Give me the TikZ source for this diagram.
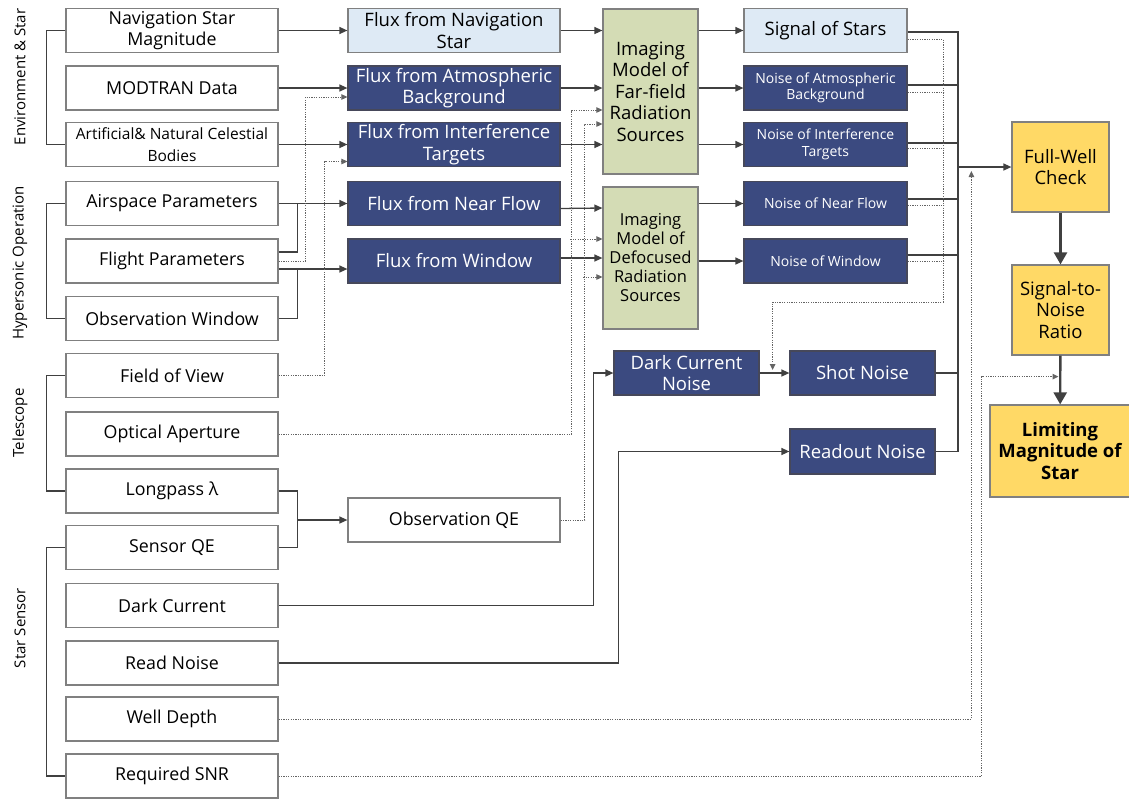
\documentclass[tikz,border=0pt]{standalone}
\usepackage{fontspec}
\setmainfont{Open Sans}
\usetikzlibrary{arrows.meta,calc}
\definecolor{navy}{RGB}{59,74,128}
\definecolor{lblue}{RGB}{222,234,245}
\definecolor{olivebg}{RGB}{212,220,181}
\definecolor{goldbg}{RGB}{255,217,102}
\definecolor{lc}{RGB}{64,64,64}
\definecolor{bc}{RGB}{128,128,128}
\definecolor{nb}{RGB}{70,72,90}
\definecolor{dotc}{RGB}{100,100,100}
\newcommand\fsA{\fontsize{17.8}{21.5}\selectfont}
\newcommand\fsB{\fontsize{18.5}{21.5}\selectfont}
\newcommand\fsC{\fontsize{15.5}{22}\selectfont}
\newcommand\fsD{\fontsize{14}{16.5}\selectfont}
\newcommand\fsE{\fontsize{15}{17}\selectfont}
\newcommand\fsF{\fontsize{16.5}{19}\selectfont}
\begin{document}
\begin{tikzpicture}[x=1pt,y=-1pt,
  bx/.style={draw=bc, line width=1.2pt, minimum width=212pt, minimum height=44pt, align=center, inner sep=1pt, font=\fsA},
  wbox/.style={bx, fill=white, text=black},
  lbox/.style={bx, fill=lblue, text=black, font=\fsB},
  bbox/.style={bx, fill=navy, draw=nb, text=white, font=\fsB},
  gbox/.style={bx, fill=olivebg, text=black, minimum width=95pt, font=\fsB},
  ybox/.style={bx, fill=goldbg, text=black, minimum width=97pt, minimum height=90pt, font=\fsB},
  grp/.style={rotate=90, font=\fsE, text=black},
  line/.style={draw=lc, line width=1.3pt},
  arr/.style={line, -{Triangle[length=8pt,width=7pt]}},
  bigarr/.style={draw=lc, line width=2.4pt, -{Triangle[length=12pt,width=13pt]}},
  dotl/.style={draw=dotc, line width=1pt, dash pattern=on 1.2pt off 1.2pt},
  dotarr/.style={dotl, -{Triangle[length=6pt,width=5.5pt]}}
]
\useasboundingbox (0,0) rectangle (1129,801);
% group labels
\node[grp] (g1) at (20,77) {Environment \& Star};
\node[grp] (g2) at (20,263) {Hypersonic Operation};
\node[grp] (g3) at (20,423) {Telescope};
\node[grp] (g4) at (20,628) {Star Sensor};
% left column
\node[wbox] (nsm) at (172,30.5) {Navigation Star\\Magnitude};
\node[wbox] (mod) at (172,88) {MODTRAN Data};
\node[wbox,font=\fsC] (art) at (172,144.5) {Artificial\& Natural Celestial\\Bodies};
\node[wbox] (air) at (172,203.5) {Airspace Parameters};
\node[wbox] (flt) at (172,261) {Flight Parameters};
\node[wbox] (obsw) at (172,318.5) {Observation Window};
\node[wbox] (fov) at (172,375.5) {Field of View};
\node[wbox] (opt) at (172,434) {Optical Aperture};
\node[wbox] (lp) at (172,491) {Longpass λ};
\node[wbox] (sqe) at (172,547.5) {Sensor QE};
\node[wbox] (dcur) at (172,605.5) {Dark Current};
\node[wbox] (rn) at (172,663) {Read Noise};
\node[wbox] (wd) at (172,719) {Well Depth};
\node[wbox] (rsnr) at (172,776) {Required SNR};
% second column
\node[lbox] (fns) at (454,30.5) {Flux from Navigation\\Star};
\node[bbox] (fatm) at (454,88) {Flux from Atmospheric\\Background};
\node[bbox] (fint) at (454,144.5) {Flux from Interference\\Targets};
\node[bbox] (fnf) at (454,203.5) {Flux from Near Flow};
\node[bbox] (fwin) at (454,261) {Flux from Window};
\node[wbox] (oqe) at (454,520) {Observation QE};
% imaging models
\node[gbox, minimum height=165pt] (far) at (650.5,91.5) {Imaging\\Model of\\Far-field\\Radiation\\Sources};
\node[gbox, minimum height=142pt, font=\fsF] (def) at (650.5,258) {Imaging\\Model of\\Defocused\\Radiation\\Sources};
% fourth column
\node[lbox, minimum width=163pt] (sig) at (825.5,30.5) {Signal of Stars};
\node[bbox, minimum width=163pt, font=\fsD] (natm) at (825.5,88) {Noise of Atmospheric\\Background};
\node[bbox, minimum width=163pt, font=\fsD] (nint) at (825.5,144.5) {Noise of Interference\\Targets};
\node[bbox, minimum width=163pt, font=\fsD] (nnf) at (825.5,203.5) {Noise of Near Flow};
\node[bbox, minimum width=163pt, font=\fsD] (nwin) at (825.5,261) {Noise of Window};
% noise boxes
\node[bbox, minimum width=145pt] (dcn) at (686.5,373) {Dark Current\\Noise};
\node[bbox, minimum width=145pt] (shot) at (862.5,373) {Shot Noise};
\node[bbox, minimum width=145pt, minimum height=45pt] (rdn) at (862.5,451.5) {Readout Noise};
% right column
\node[ybox] (fw) at (1060.5,167) {Full-Well\\Check};
\node[ybox] (snr) at (1060.5,310) {Signal-to-\\Noise\\Ratio};
\node[ybox, minimum width=140pt, minimum height=92pt, font=\fsB\bfseries] (lim) at (1060,451) {Limiting\\Magnitude of\\Star};
% brackets
\draw[line] (nsm.west) -- ++(-19,0) |- (art.west);
\draw[line] (air.west) -- ++(-19,0) |- (obsw.west);
\draw[line] (fov.west) -- ++(-19,0) |- (lp.west);
\draw[line] (sqe.west) -- ++(-19,0) |- (rsnr.west);
% column 1 -> column 2
\draw[arr] (nsm) -- (fns);
\draw[arr] (mod) -- (fatm);
\draw[arr] (art) -- (fint);
\draw[arr] (air) -- (fnf);
\draw[line] ([yshift=9pt]flt.east) -| ([xshift=19pt]air.east);
\draw[arr] ([yshift=-8pt]flt.east) -- ([yshift=-8pt]fwin.west);
\draw[line] (obsw.east) -| ([xshift=19pt,yshift=-8pt]flt.east);
\draw[dotarr] (flt.east) -- ++(27,0) |- ([yshift=-9pt]fatm.west);
\draw[dotarr] (fov.east) -- ++(46,0) |- ([yshift=-17pt]fint.west);
\draw[line] (lp.east) -| ([xshift=19pt]sqe.east) -- (sqe.east);
\coordinate (qej) at (297,520);
\draw[arr] (qej) -- (oqe.west);
% column 2 -> imaging models
\draw[arr] (fns.east) -- (fns.east -| far.west);
\draw[arr] (fatm.east) -- (fatm.east -| far.west);
\draw[arr] (fint.east) -- (fint.east -| far.west);
\draw[arr] ([yshift=-5pt]fnf.east) -- ([yshift=-4.5pt]def.west |- fnf.east);
\draw[arr] ([yshift=3pt]fwin.east) -- ([yshift=3pt]def.west |- fwin.east);
\draw[dotarr] (opt.east) -- ++(293,0) |- ([yshift=-18.5pt]far.west);
\draw[dotarr] ([xshift=-32pt,yshift=19pt]def.west) -- ([yshift=19pt]def.west);
\draw[dotarr] (oqe.east) -- ++(24,0) |- ([yshift=-32.5pt]far.west);
\draw[dotarr] ([xshift=-19pt,yshift=-19pt]def.west) -- ([yshift=-19pt]def.west);
% imaging models -> fourth column
\draw[arr] (sig.west -| far.east) -- (sig.west);
\draw[arr] (natm.west -| far.east) -- (natm.west);
\draw[arr] (nint.west -| far.east) -- (nint.west);
\draw[arr] (nnf.west -| def.east) -- (nnf.west);
\draw[arr] (nwin.west -| def.east) -- (nwin.west);
% solid bus
\coordinate (bus) at (958,0);
\draw[line] ([yshift=-1.5pt]sig.east) -| (bus |- rdn.east) -- (rdn.east);
\draw[line] ([yshift=3pt]natm.east) -- ++(51,0);
\draw[line] ([yshift=1.5pt]nint.east) -- ++(51,0);
\draw[line] ([yshift=4.5pt]nnf.east) -- ++(51,0);
\draw[line] ([yshift=6pt]nwin.east) -- ++(51,0);
\draw[line] (shot.east) -- ++(23,0);
\draw[arr] (bus |- fw.west) -- (fw.west);
% dotted bus
\draw[dotarr] ([yshift=-8.5pt]sig.east) -| (943,302) -| ([xshift=13pt,yshift=3pt]dcn.east);
\draw[dotl] ([yshift=-4pt]natm.east) -- ++(36,0);
\draw[dotl] ([yshift=-3.5pt]nint.east) -- ++(36,0);
\draw[dotl] ([yshift=-1.5pt]nnf.east) -- ++(36,0);
\draw[dotl] (nwin.east) -- ++(36,0);
% noise chain
\draw[arr] (dcn) -- (shot);
\draw[arr] (dcur.east) -| ([xshift=-20pt]dcn.west) -- (dcn.west);
\draw[arr] (rn.east) -| ([xshift=-171pt]rdn.west) -- (rdn.west);
% well depth & required SNR
\draw[dotarr] (wd.east) -| ([xshift=-40pt,yshift=-4pt]fw.west);
\draw[dotarr] (rsnr.east) -| ([xshift=-79pt,yshift=-21pt]snr.south) -- ([xshift=-2pt,yshift=-21pt]snr.south);
% right chain
\draw[bigarr] (fw) -- (snr);
\draw[bigarr] (snr) -- (lim);
\end{tikzpicture}
\end{document}
